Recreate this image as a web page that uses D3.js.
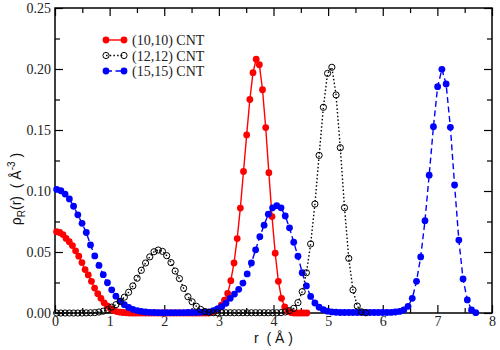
<!DOCTYPE html>
<html>
<head>
<meta charset="utf-8">
<script src="https://cdn.jsdelivr.net/npm/d3@7"></script>
<style>
  body { margin: 0; background: #fff; }
  svg { display: block; }
  .tick text { font-family: "Liberation Serif", "Times New Roman", serif; font-size: 14px; fill: #222; }
  .title { font-family: "Liberation Sans", Arial, sans-serif; font-size: 14px; fill: #111; white-space: pre; }
  .legend text { font-family: "Liberation Serif", "Times New Roman", serif; font-size: 14px; fill: #222; white-space: pre; }
</style>
</head>
<body>
<div id="chart"></div>
<script>
// radial bins, (10,10) tube
const rSmall = [0.029, 0.087, 0.145, 0.203, 0.261, 0.319, 0.377, 0.435, 0.493, 0.551,
    0.609, 0.667, 0.725, 0.783, 0.841, 0.899, 0.957, 1.015, 1.073, 1.131,
    1.189, 1.247, 1.305, 1.363, 1.421, 1.479, 1.537, 1.595, 1.653, 1.711,
    1.769, 1.827, 1.885, 1.943, 2.001, 2.059, 2.117, 2.175, 2.233, 2.291,
    2.349, 2.407, 2.465, 2.523, 2.581, 2.639, 2.697, 2.755, 2.813, 2.871,
    2.929, 2.987, 3.045, 3.103, 3.161, 3.219, 3.277, 3.335, 3.393, 3.451,
    3.509, 3.567, 3.625, 3.683, 3.741, 3.799, 3.857, 3.915, 3.973, 4.031,
    4.089, 4.147, 4.205, 4.263, 4.321, 4.379, 4.437, 4.495, 4.553, 4.611];

// radial bins, (12,12) and (15,15) tubes
const rWide = [0.030, 0.108, 0.185, 0.263, 0.340, 0.418, 0.495, 0.573, 0.650, 0.728,
    0.805, 0.883, 0.960, 1.038, 1.115, 1.193, 1.270, 1.348, 1.425, 1.503,
    1.580, 1.658, 1.735, 1.813, 1.890, 1.968, 2.045, 2.123, 2.200, 2.278,
    2.355, 2.433, 2.510, 2.588, 2.665, 2.743, 2.820, 2.898, 2.975, 3.053,
    3.130, 3.208, 3.285, 3.363, 3.440, 3.518, 3.595, 3.673, 3.750, 3.828,
    3.905, 3.983, 4.060, 4.138, 4.215, 4.293, 4.370, 4.448, 4.525, 4.603,
    4.680, 4.758, 4.835, 4.913, 4.990, 5.068, 5.145, 5.223, 5.300, 5.378,
    5.455, 5.533, 5.610, 5.688, 5.765, 5.843, 5.920, 5.998, 6.075, 6.153,
    6.230, 6.308, 6.385, 6.463, 6.540, 6.618, 6.695, 6.773, 6.850, 6.928,
    7.005, 7.083, 7.160, 7.238, 7.315, 7.393, 7.470, 7.548, 7.625, 7.703];

const rho1010 = [0.0666, 0.0660, 0.0643, 0.0611, 0.0584, 0.0553, 0.0510, 0.0466, 0.0413, 0.0356,
    0.0312, 0.0260, 0.0204, 0.0158, 0.0120, 0.0083, 0.0058, 0.0035, 0.0021, 0.0012,
    0.0007, 0.0004, 0.0002, 0, 0, 0, 0, 0, 0, 0,
    0, 0, 0, 0, 0, 0, 0, 0, 0, 0,
    0, 0, 0, 0, 0, 0, 0, 0, 0, 0.0007,
    0.0017, 0.0035, 0.0065, 0.0105, 0.0160, 0.0265, 0.0410, 0.0610, 0.0860, 0.1160,
    0.1460, 0.1750, 0.1970, 0.2080, 0.2035, 0.1830, 0.1520, 0.1150, 0.0790, 0.0490,
    0.0260, 0.0120, 0.0050, 0.0015, 0.0004, 0, 0, 0, 0, 0];

const rho1212 = [0, 0, 0, 0, 0, 0, 0, 0.0001, 0.0002, 0.0003,
    0.0008, 0.0015, 0.0026, 0.0048, 0.0068, 0.0095, 0.0130, 0.0170, 0.0222, 0.0285,
    0.0350, 0.0410, 0.0460, 0.0502, 0.0516, 0.0505, 0.0470, 0.0413, 0.0344, 0.0282,
    0.0202, 0.0134, 0.0092, 0.0055, 0.0030, 0.0012, 0.0005, 0.0002, 0.0002, 0.0002,
    0.0002, 0.0002, 0.0002, 0.0002, 0.0002, 0.0002, 0.0002, 0.0002, 0.0002, 0.0002,
    0.0002, 0.0002, 0.0002, 0.0003, 0.0008, 0.0020, 0.0038, 0.0085, 0.0175, 0.0330,
    0.0566, 0.0893, 0.1292, 0.1686, 0.1964, 0.2014, 0.1787, 0.1355, 0.0863, 0.0448,
    0.0189, 0.0057, 0.0010, 0.0002];

const rho1515 = [0.1013, 0.1002, 0.0975, 0.0935, 0.0875, 0.0805, 0.0735, 0.0660, 0.0558, 0.0468,
    0.0390, 0.0314, 0.0248, 0.0190, 0.0138, 0.0097, 0.0068, 0.0045, 0.0030, 0.0020,
    0.0013, 0.0008, 0.0005, 0.0004, 0.0003, 0.0003, 0.0003, 0.0003, 0.0003, 0.0003,
    0.0003, 0.0004, 0.0004, 0.0005, 0.0006, 0.0008, 0.0010, 0.0020, 0.0033, 0.0052,
    0.0080, 0.0120, 0.0155, 0.0194, 0.0245, 0.0320, 0.0410, 0.0518, 0.0626, 0.0720,
    0.0810, 0.0862, 0.0880, 0.0862, 0.0795, 0.0698, 0.0580, 0.0465, 0.0330, 0.0222,
    0.0136, 0.0082, 0.0047, 0.0027, 0.0015, 0.0009, 0.0006, 0.0004, 0.0004, 0.0004,
    0.0004, 0.0004, 0.0004, 0.0004, 0.0004, 0.0004, 0.0004, 0.0004, 0.0004, 0.0005,
    0.0008, 0.0013, 0.0025, 0.0055, 0.0120, 0.0260, 0.0460, 0.0757, 0.1130, 0.1527,
    0.1855, 0.1997, 0.1877, 0.1522, 0.1049, 0.0598, 0.0279, 0.0107, 0.0025, 0.0003];

const seriesNames = ["(10,10) CNT", "(12,12) CNT", "(15,15) CNT"];
const xTicks = [0, 1, 2, 3, 4, 5, 6, 7, 8];
const yTicks = [0, 0.05, 0.10, 0.15, 0.20, 0.25];

const W = 500, H = 350;
const margin = {top: 8, right: 8, bottom: 37, left: 55};
const width = W - margin.left - margin.right;
const height = H - margin.top - margin.bottom;

const svg = d3.select("#chart").append("svg")
    .attr("width", W)
    .attr("height", H);
const g = svg.append("g")
    .attr("transform", `translate(${margin.left}, ${margin.top})`);

const x = d3.scaleLinear().domain([0, 8]).range([0, width]);
const y = d3.scaleLinear().domain([0, 0.25]).range([height, 0]);

const xMinor = d3.range(0.5, 8, 1);
const yMinor = d3.range(0.025, 0.25, 0.05);

// axes: all ticks point inward
function styleAxis(sel) {
    sel.select(".domain").remove();
    sel.selectAll("line").attr("stroke", "#000").attr("stroke-width", 1.2);
}

g.append("g")
    .attr("transform", `translate(0, ${height})`)
    .call(d3.axisBottom(x).tickValues(xTicks).tickSize(-8).tickPadding(3).tickFormat(d3.format("d")))
    .call(styleAxis);
g.append("g")
    .attr("transform", `translate(0, ${height})`)
    .call(d3.axisBottom(x).tickValues(xMinor).tickSize(-5).tickFormat(""))
    .call(styleAxis);
g.append("g")
    .call(d3.axisTop(x).tickValues(xTicks).tickSize(-8).tickFormat(""))
    .call(styleAxis);
g.append("g")
    .call(d3.axisTop(x).tickValues(xMinor).tickSize(-5).tickFormat(""))
    .call(styleAxis);

g.append("g")
    .call(d3.axisLeft(y).tickValues(yTicks).tickSize(-8).tickPadding(4).tickFormat(d3.format(".2f")))
    .call(styleAxis);
g.append("g")
    .call(d3.axisLeft(y).tickValues(yMinor).tickSize(-5).tickFormat(""))
    .call(styleAxis);
g.append("g")
    .attr("transform", `translate(${width}, 0)`)
    .call(d3.axisRight(y).tickValues(yTicks).tickSize(-8).tickFormat(""))
    .call(styleAxis);
g.append("g")
    .attr("transform", `translate(${width}, 0)`)
    .call(d3.axisRight(y).tickValues(yMinor).tickSize(-5).tickFormat(""))
    .call(styleAxis);

g.append("rect")
    .attr("width", width)
    .attr("height", height)
    .attr("fill", "none")
    .attr("stroke", "#000")
    .attr("stroke-width", 1.5);

const line = d3.line().x(d => x(d[0])).y(d => y(d[1]));

const series = [
    {name: seriesNames[0], data: d3.zip(rSmall, rho1010), color: "#ff0000", dash: null, open: false},
    {name: seriesNames[2], data: d3.zip(rWide, rho1515), color: "#0000ff", dash: "6,3.5", open: false},
    {name: seriesNames[1], data: d3.zip(rWide.slice(0, rho1212.length), rho1212), color: "#000", dash: "1.5,2.2", open: true}
];

series.forEach(s => {
    g.append("path")
        .datum(s.data)
        .attr("d", line)
        .attr("fill", "none")
        .attr("stroke", s.color)
        .attr("stroke-width", 1.4)
        .attr("stroke-dasharray", s.dash);
    g.append("g").selectAll("circle")
        .data(s.data)
        .enter().append("circle")
            .attr("cx", d => x(d[0]))
            .attr("cy", d => y(d[1]))
            .attr("r", s.open ? 3.1 : 3.4)
            .attr("fill", s.open ? "none" : s.color)
            .attr("stroke", s.open ? "#000" : "none")
            .attr("stroke-width", 1);
});

// legend, in plot coords
const legendItems = [
    {name: seriesNames[0], color: "#ff0000", dash: null, open: false},
    {name: seriesNames[1], color: "#000", dash: "1.5,2.2", open: true},
    {name: seriesNames[2], color: "#0000ff", dash: "6,3.5", open: false}
];
const legend = g.append("g").attr("class", "legend")
    .attr("transform", "translate(51, 32)");
const item = legend.selectAll("g")
    .data(legendItems)
    .enter().append("g")
        .attr("transform", (d, i) => `translate(0, ${i * 15.5})`);
item.append("line")
    .attr("x1", 0).attr("x2", 18)
    .attr("stroke", d => d.color)
    .attr("stroke-width", 1.4)
    .attr("stroke-dasharray", d => d.dash);
item.selectAll("circle")
    .data(d => [d, d])
    .enter().append("circle")
        .attr("cx", (d, i) => i * 18)
        .attr("r", d => d.open ? 3.1 : 3.4)
        .attr("fill", d => d.open ? "none" : d.color)
        .attr("stroke", d => d.open ? "#000" : "none");
item.append("text")
    .attr("x", 26)
    .attr("y", 5)
    .text(d => d.name);

// axis titles
svg.append("text")
    .attr("class", "title")
    .attr("x", margin.left + width / 2)
    .attr("y", 343)
    .attr("text-anchor", "middle")
    .text("r  ( Å )");

const yTitle = svg.append("text")
    .attr("class", "title")
    .attr("transform", "translate(21, 189) rotate(-90)")
    .attr("text-anchor", "middle");
yTitle.append("tspan").text("ρ");
yTitle.append("tspan").attr("dy", 4).style("font-size", "10px").text("R");
yTitle.append("tspan").attr("dy", -4).text("(r)  ( Å");
yTitle.append("tspan").attr("dy", -6).style("font-size", "10px").text("-3");
yTitle.append("tspan").attr("dy", 6).text(" )");
</script>
</body>
</html>
